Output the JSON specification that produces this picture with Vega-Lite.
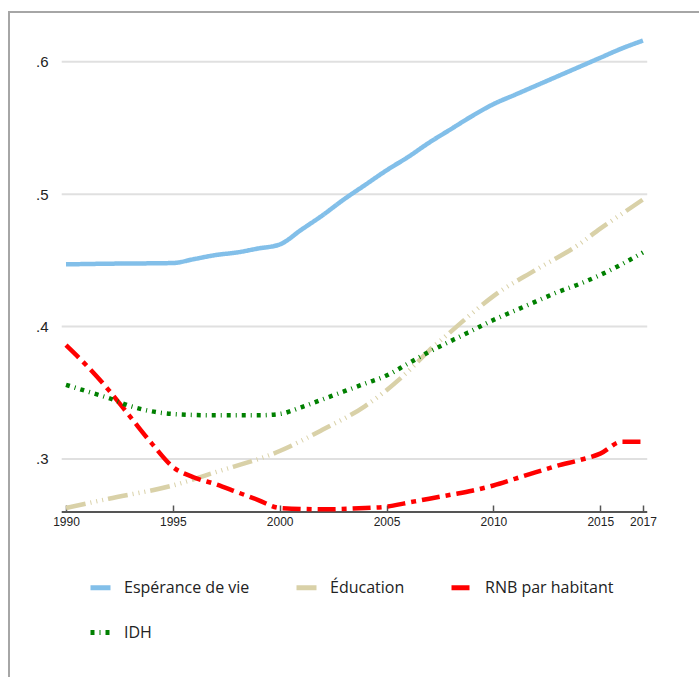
{
  "$schema": "https://vega.github.io/schema/vega-lite/v6.json",
  "width": 700,
  "height": 700,
  "autosize": {"type": "none"},
  "padding": {"left": 9, "top": 12, "right": 0, "bottom": 0},
  "background": "white",
  "config": {
    "view": {"stroke": "#a6a6a6", "strokeWidth": 2},
    "legend": {
      "orient": "none",
      "direction": "horizontal",
      "legendX": 79,
      "legendY": 563,
      "columns": 3,
      "symbolType": "stroke",
      "symbolStrokeWidth": 5,
      "symbolSize": 400,
      "labelFont": "Open Sans",
      "labelFontSize": 16,
      "labelColor": "#222222",
      "labelLimit": 300,
      "columnPadding": 36,
      "rowPadding": 22,
      "labelOffset": 11,
      "title": null
    }
  },
  "datasets": {
    "grid": [{"g": 0.3}, {"g": 0.4}, {"g": 0.5}, {"g": 0.6}],
    "series": [
      {"year": 1990, "value": 0.447, "series": "Espérance de vie"},
      {"year": 1992, "value": 0.4475, "series": "Espérance de vie"},
      {"year": 1995, "value": 0.448, "series": "Espérance de vie"},
      {"year": 1996, "value": 0.451, "series": "Espérance de vie"},
      {"year": 1997, "value": 0.454, "series": "Espérance de vie"},
      {"year": 1998, "value": 0.456, "series": "Espérance de vie"},
      {"year": 1999, "value": 0.459, "series": "Espérance de vie"},
      {"year": 2000, "value": 0.462, "series": "Espérance de vie"},
      {"year": 2001, "value": 0.473, "series": "Espérance de vie"},
      {"year": 2002, "value": 0.484, "series": "Espérance de vie"},
      {"year": 2003, "value": 0.496, "series": "Espérance de vie"},
      {"year": 2004, "value": 0.507, "series": "Espérance de vie"},
      {"year": 2005, "value": 0.518, "series": "Espérance de vie"},
      {"year": 2006, "value": 0.528, "series": "Espérance de vie"},
      {"year": 2007, "value": 0.539, "series": "Espérance de vie"},
      {"year": 2008, "value": 0.549, "series": "Espérance de vie"},
      {"year": 2009, "value": 0.559, "series": "Espérance de vie"},
      {"year": 2010, "value": 0.568, "series": "Espérance de vie"},
      {"year": 2011, "value": 0.575, "series": "Espérance de vie"},
      {"year": 2012, "value": 0.582, "series": "Espérance de vie"},
      {"year": 2013, "value": 0.589, "series": "Espérance de vie"},
      {"year": 2014, "value": 0.596, "series": "Espérance de vie"},
      {"year": 2015, "value": 0.603, "series": "Espérance de vie"},
      {"year": 2016, "value": 0.610, "series": "Espérance de vie"},
      {"year": 2017, "value": 0.616, "series": "Espérance de vie"},

      {"year": 1990, "value": 0.263, "series": "Éducation"},
      {"year": 1992, "value": 0.270, "series": "Éducation"},
      {"year": 1995, "value": 0.280, "series": "Éducation"},
      {"year": 1997, "value": 0.290, "series": "Éducation"},
      {"year": 2000, "value": 0.306, "series": "Éducation"},
      {"year": 2002, "value": 0.322, "series": "Éducation"},
      {"year": 2004, "value": 0.340, "series": "Éducation"},
      {"year": 2005, "value": 0.352, "series": "Éducation"},
      {"year": 2006, "value": 0.366, "series": "Éducation"},
      {"year": 2007, "value": 0.382, "series": "Éducation"},
      {"year": 2008, "value": 0.396, "series": "Éducation"},
      {"year": 2009, "value": 0.410, "series": "Éducation"},
      {"year": 2010, "value": 0.423, "series": "Éducation"},
      {"year": 2012, "value": 0.443, "series": "Éducation"},
      {"year": 2014, "value": 0.462, "series": "Éducation"},
      {"year": 2015, "value": 0.474, "series": "Éducation"},
      {"year": 2016, "value": 0.485, "series": "Éducation"},
      {"year": 2017, "value": 0.496, "series": "Éducation"},

      {"year": 1990, "value": 0.386, "series": "RNB par habitant"},
      {"year": 1991, "value": 0.370, "series": "RNB par habitant"},
      {"year": 1992, "value": 0.352, "series": "RNB par habitant"},
      {"year": 1993, "value": 0.332, "series": "RNB par habitant"},
      {"year": 1994, "value": 0.312, "series": "RNB par habitant"},
      {"year": 1995, "value": 0.294, "series": "RNB par habitant"},
      {"year": 1996, "value": 0.286, "series": "RNB par habitant"},
      {"year": 1997, "value": 0.281, "series": "RNB par habitant"},
      {"year": 1998, "value": 0.275, "series": "RNB par habitant"},
      {"year": 1999, "value": 0.269, "series": "RNB par habitant"},
      {"year": 2000, "value": 0.263, "series": "RNB par habitant"},
      {"year": 2002, "value": 0.262, "series": "RNB par habitant"},
      {"year": 2004, "value": 0.263, "series": "RNB par habitant"},
      {"year": 2005, "value": 0.264, "series": "RNB par habitant"},
      {"year": 2006, "value": 0.267, "series": "RNB par habitant"},
      {"year": 2007, "value": 0.270, "series": "RNB par habitant"},
      {"year": 2008, "value": 0.273, "series": "RNB par habitant"},
      {"year": 2009, "value": 0.276, "series": "RNB par habitant"},
      {"year": 2010, "value": 0.280, "series": "RNB par habitant"},
      {"year": 2011, "value": 0.285, "series": "RNB par habitant"},
      {"year": 2012, "value": 0.290, "series": "RNB par habitant"},
      {"year": 2013, "value": 0.295, "series": "RNB par habitant"},
      {"year": 2014, "value": 0.299, "series": "RNB par habitant"},
      {"year": 2015, "value": 0.304, "series": "RNB par habitant"},
      {"year": 2016, "value": 0.313, "series": "RNB par habitant"},
      {"year": 2017, "value": 0.313, "series": "RNB par habitant"},

      {"year": 1990, "value": 0.356, "series": "IDH"},
      {"year": 1991, "value": 0.351, "series": "IDH"},
      {"year": 1992, "value": 0.346, "series": "IDH"},
      {"year": 1993, "value": 0.340, "series": "IDH"},
      {"year": 1994, "value": 0.336, "series": "IDH"},
      {"year": 1995, "value": 0.334, "series": "IDH"},
      {"year": 1997, "value": 0.333, "series": "IDH"},
      {"year": 1999, "value": 0.333, "series": "IDH"},
      {"year": 2000, "value": 0.334, "series": "IDH"},
      {"year": 2001, "value": 0.339, "series": "IDH"},
      {"year": 2002, "value": 0.345, "series": "IDH"},
      {"year": 2003, "value": 0.351, "series": "IDH"},
      {"year": 2004, "value": 0.357, "series": "IDH"},
      {"year": 2005, "value": 0.363, "series": "IDH"},
      {"year": 2006, "value": 0.372, "series": "IDH"},
      {"year": 2007, "value": 0.381, "series": "IDH"},
      {"year": 2008, "value": 0.389, "series": "IDH"},
      {"year": 2009, "value": 0.397, "series": "IDH"},
      {"year": 2010, "value": 0.405, "series": "IDH"},
      {"year": 2011, "value": 0.412, "series": "IDH"},
      {"year": 2012, "value": 0.419, "series": "IDH"},
      {"year": 2013, "value": 0.426, "series": "IDH"},
      {"year": 2014, "value": 0.432, "series": "IDH"},
      {"year": 2015, "value": 0.439, "series": "IDH"},
      {"year": 2016, "value": 0.447, "series": "IDH"},
      {"year": 2017, "value": 0.456, "series": "IDH"}
    ]
  },
  "encoding": {
    "x": {
      "type": "quantitative",
      "scale": {"domain": [1987.333, 2020.09], "nice": false, "zero": false},
      "axis": {
        "orient": "bottom", "offset": -200, "domain": false, "grid": false,
        "values": [1990, 1995, 2000, 2005, 2010, 2015, 2017],
        "format": "d",
        "tickSize": -7, "tickColor": "#555555", "tickWidth": 1.5,
        "labelFont": "Liberation Sans", "labelFontSize": 12, "labelColor": "#222222",
        "labelPadding": 11, "labelFlush": false, "labelOverlap": false,
        "title": null
      }
    },
    "y": {
      "type": "quantitative",
      "scale": {"domain": [0.1089, 0.6376], "nice": false, "zero": false},
      "axis": {
        "orient": "left", "offset": -41, "domain": false, "ticks": false, "grid": false,
        "values": [0.3, 0.4, 0.5, 0.6],
        "labelExpr": "substring(format(datum.value, '.1f'), 1)",
        "labelFont": "Liberation Sans", "labelFontSize": 15, "labelColor": "#222222",
        "labelPadding": 2,
        "title": null
      }
    }
  },
  "layer": [
    {
      "data": {"name": "grid"},
      "mark": {"type": "rule", "color": "#e0e0e0", "strokeWidth": 2},
      "encoding": {
        "x": {"datum": 1989.8, "type": "quantitative"},
        "x2": {"datum": 2017.2},
        "y": {"field": "g", "type": "quantitative"}
      }
    },
    {
      "data": {"values": [{"base": 0.26}]},
      "mark": {"type": "rule", "color": "#555555", "strokeWidth": 2},
      "encoding": {
        "x": {"datum": 1989.8, "type": "quantitative"},
        "x2": {"datum": 2017.2},
        "y": {"field": "base", "type": "quantitative"}
      }
    },
    {
      "data": {"name": "series"},
      "mark": {"type": "line", "interpolate": "monotone", "strokeWidth": 4.5, "strokeCap": "butt"},
      "encoding": {
        "x": {"field": "year", "type": "quantitative"},
        "y": {"field": "value", "type": "quantitative"},
        "color": {
          "field": "series", "type": "nominal",
          "sort": ["Espérance de vie", "Éducation", "RNB par habitant", "IDH"],
          "scale": {
            "domain": ["Espérance de vie", "Éducation", "RNB par habitant", "IDH"],
            "range": ["#82bfe9", "#d9d1a8", "#ff0000", "#008000"]
          }
        },
        "strokeDash": {
          "field": "series", "type": "nominal",
          "sort": ["Espérance de vie", "Éducation", "RNB par habitant", "IDH"],
          "scale": {
            "domain": ["Espérance de vie", "Éducation", "RNB par habitant", "IDH"],
            "range": [[1, 0], [20, 5, 1, 5, 1, 5, 1, 5], [18, 6, 5, 6], [4, 5, 1, 5]]
          }
        }
      }
    }
  ]
}
